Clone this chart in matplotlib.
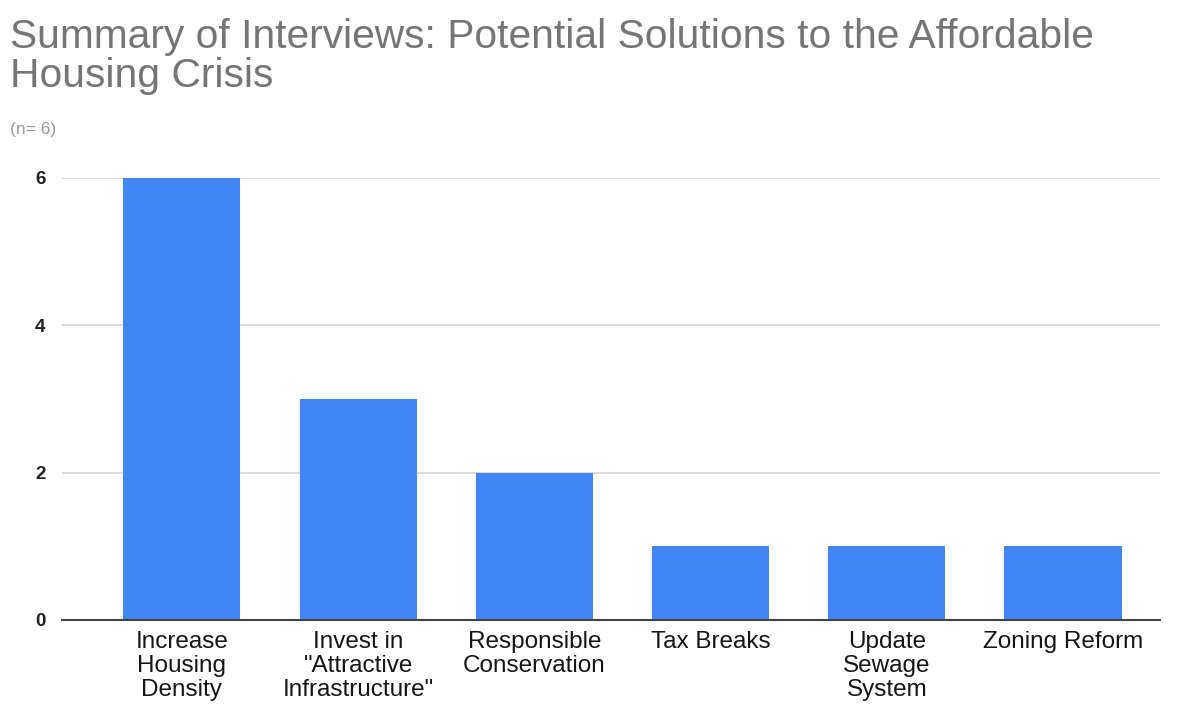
import matplotlib
matplotlib.use("Agg")
import matplotlib.pyplot as plt

categories = [
    "Increase\nHousing\nDensity",
    "Invest in\n\"Attractive\nInfrastructure\"",
    "Responsible\nConservation",
    "Tax Breaks",
    "Update\nSewage\nSystem",
    "Zoning Reform",
]
counts = [6, 3, 2, 1, 1, 1]
y_ticks = [0, 2, 4, 6]

plt.rcParams["font.family"] = ["Liberation Sans", "DejaVu Sans"]

fig = plt.figure(figsize=(11.82, 7.08), dpi=100)
ax = fig.add_axes([0.0525, 0.1243, 0.9289, 0.6243])

x = list(range(len(categories)))
ax.bar(x, counts, width=0.665, color="#4285F4", zorder=3)

ax.set_xlim(-0.68, 5.55)
ax.set_ylim(0, 6)
ax.set_yticks(y_ticks)
ax.set_yticklabels([str(v) for v in y_ticks], fontsize=13.5, fontweight="bold", color="#222222")
ax.set_xticks(x)
ax.set_xticklabels(categories, fontsize=17.5, color="#151515", linespacing=1.1, va="top")

ax.tick_params(axis="y", length=0, pad=12)
ax.tick_params(axis="x", length=0, pad=8)

ax.grid(axis="y", color="#d6d6d6", linewidth=1.2, zorder=0)
for s in ["top", "right", "left"]:
    ax.spines[s].set_visible(False)
ax.spines["bottom"].set_color("#444444")
ax.spines["bottom"].set_linewidth(1.5)
ax.spines["bottom"].set_zorder(4)

fig.text(10 / 1182, 1 - 48 / 708, "Summary of Interviews: Potential Solutions to the Affordable",
         fontsize=29.3, color="#757575", ha="left", va="baseline")
fig.text(10 / 1182, 1 - 87 / 708, "Housing Crisis",
         fontsize=29.3, color="#757575", ha="left", va="baseline")
fig.text(10 / 1182, 1 - 134 / 708, "(n= 6)",
         fontsize=12.5, color="#9a9a9a", ha="left", va="baseline")

fig.savefig("out.png", dpi=100, facecolor="white")
